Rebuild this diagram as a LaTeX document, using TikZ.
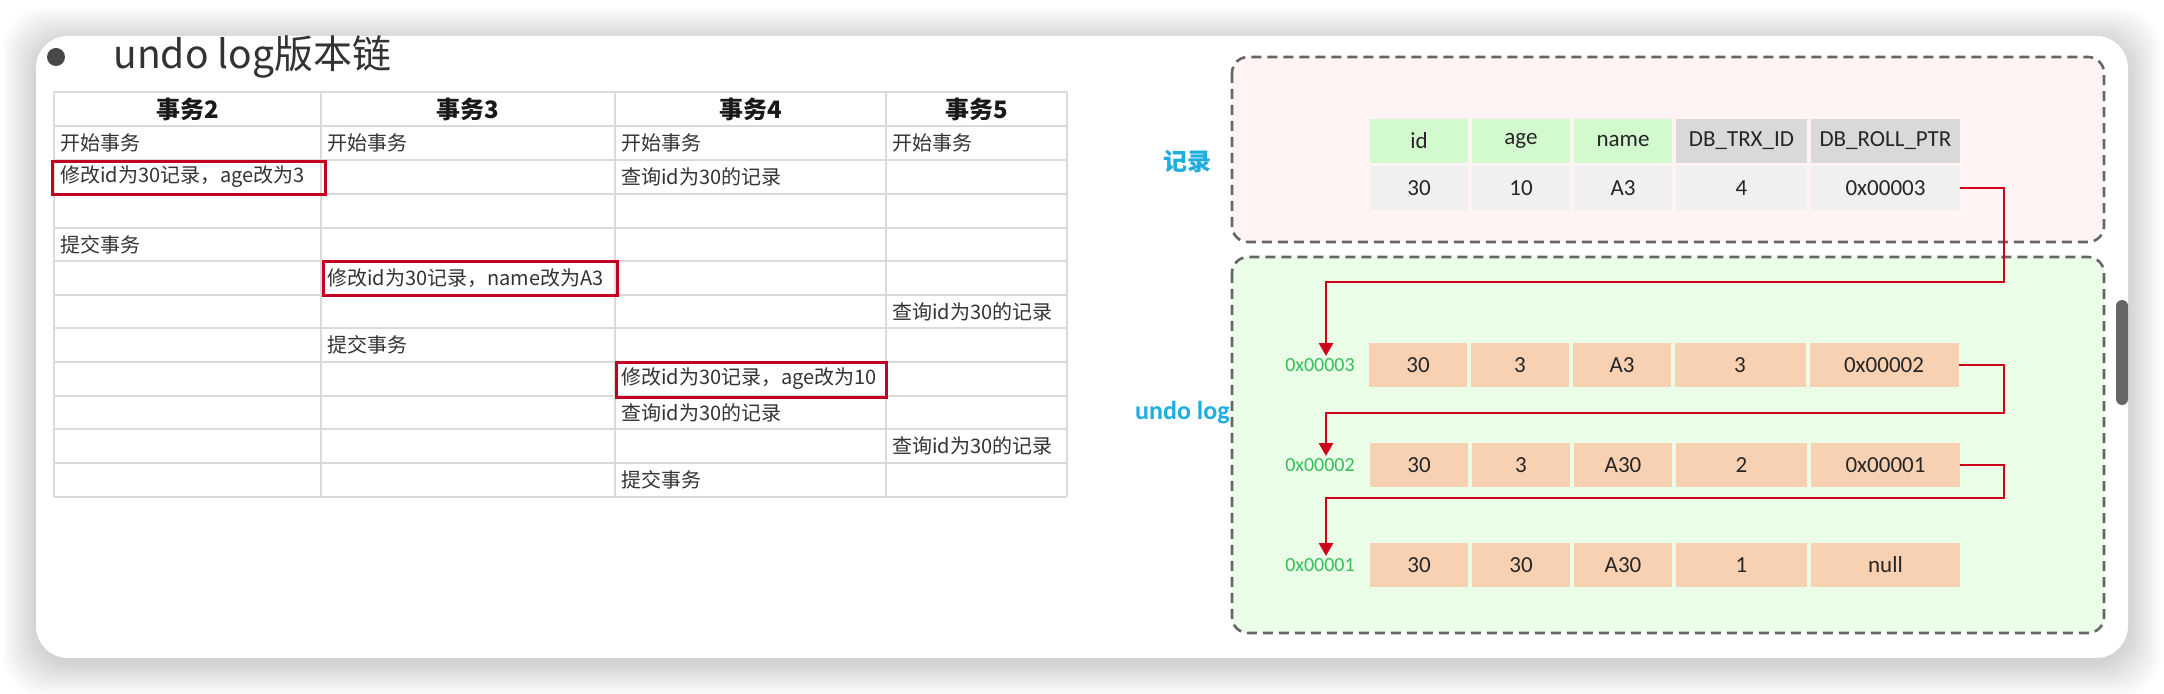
\documentclass[tikz,border=0pt]{standalone}
\usepackage{fontspec}
\setmainfont{Noto Sans CJK SC}
\newfontfamily\calfont{Carlito}
\usetikzlibrary{arrows.meta}

\definecolor{gridgray}{HTML}{DADADA}
\definecolor{boxred}{HTML}{C40022}
\definecolor{chainred}{HTML}{D0021B}
\definecolor{pinkbg}{HTML}{FFF3F3}
\definecolor{greenbg}{HTML}{EAFDE7}
\definecolor{dashgray}{HTML}{666666}
\definecolor{headgreen}{HTML}{D3F9CF}
\definecolor{headgray}{HTML}{D9D9D9}
\definecolor{datagray}{HTML}{F0F0F0}
\definecolor{peach}{HTML}{F8D1B3}
\definecolor{addrgreen}{HTML}{35BE5A}
\definecolor{labelblue}{HTML}{1EAEE0}

\begin{document}
\begin{tikzpicture}[x=0.5pt, y=-0.5pt,
  grid/.style={draw=gridgray, line width=1pt},
  head/.style={font=\bfseries\fontsize{12pt}{14pt}\selectfont, text=black!90},
  txt/.style={anchor=west, inner sep=0pt, font=\fontsize{10pt}{12pt}\selectfont, text=black!80},
  redbox/.style={draw=boxred, line width=1.5pt},
  dashbox/.style={draw=dashgray, line width=1.3pt, dash pattern=on 5pt off 3pt, rounded corners=8pt},
  cell/.style={inner sep=0pt, minimum height=22pt, font=\calfont\fontsize{11.5pt}{13pt}\selectfont, text=black!85},
  narrowcell/.style={cell, minimum width=49pt},
  trxcell/.style={cell, minimum width=65.5pt},
  ptrcell/.style={cell, minimum width=74.5pt},
  addr/.style={inner sep=1pt, font=\calfont\fontsize{10pt}{12pt}\selectfont, text=addrgreen},
  chain/.style={draw=chainred, line width=1.4pt, -{Triangle[width=7pt,length=6.5pt]}}]
\useasboundingbox (0,0) rectangle (2164,694);

% card
\foreach \i in {1,...,22}
  \fill[black, opacity=0.007, rounded corners=20pt] (36-\i*1.5,36-\i*1.5+5) rectangle (2128+\i*1.5,658+\i*1.5+5);
\fill[white, rounded corners=16pt] (36,36) rectangle (2128,658);
\fill[black!60, rounded corners=3pt] (2116,300) rectangle (2128,405);

\fill[black!72] (56,57) circle [radius=4.5pt];
\node[anchor=west, inner sep=0pt, font=\fontsize{19.5pt}{22pt}\selectfont, text=black!80] (title) at (113,57) {undo log版本链};

% transactions table
\foreach \y in {92,126,160,194,228,261,295,328,362,396,429,463,497}
  \draw[grid] (54,\y) -- (1067,\y);
\foreach \x in {54,321,615,886,1067}
  \draw[grid] (\x,92) -- (\x,497);

\node[head] (h2) at (187.5,109) {事务2};
\node[head] (h3) at (468,109) {事务3};
\node[head] (h4) at (750.5,109) {事务4};
\node[head] (h5) at (976.5,109) {事务5};

\node[txt] (begin2) at (60,143) {开始事务};
\node[txt] (begin3) at (327,143) {开始事务};
\node[txt] (begin4) at (621,143) {开始事务};
\node[txt] (begin5) at (892,143) {开始事务};
\node[txt] (upd2) at (60,177) {修改id为30记录，age改为3};
\node[txt] (sel4a) at (621,177) {查询id为30的记录};
\node[txt] (commit2) at (60,244.5) {提交事务};
\node[txt] (upd3) at (327,278) {修改id为30记录，name改为A3};
\node[txt] (sel5a) at (892,311.5) {查询id为30的记录};
\node[txt] (commit3) at (327,345) {提交事务};
\node[txt] (upd4) at (621,379) {修改id为30记录，age改为10};
\node[txt] (sel4b) at (621,412.5) {查询id为30的记录};
\node[txt] (sel5b) at (892,446) {查询id为30的记录};
\node[txt] (commit4) at (621,480) {提交事务};

\draw[redbox] (52,162) rectangle (325,195);
\draw[redbox] (323,262) rectangle (617,296);
\draw[redbox] (616,363) rectangle (886,398);

% record and undo log
\draw[dashbox, fill=pinkbg] (1232,57) rectangle (2104,242);
\draw[dashbox, fill=greenbg] (1232,257) rectangle (2104,633);

\node[font=\bfseries\fontsize{12pt}{14pt}\selectfont, text=labelblue] (reclabel) at (1187,162) {记录};
\node[anchor=east, inner sep=0pt, font=\calfont\bfseries\fontsize{13pt}{15pt}\selectfont, text=labelblue] (undolabel) at (1230,413) {undo log};

\node[narrowcell, fill=headgreen] (hid) at (1419,141) {id};
\node[narrowcell, fill=headgreen] (hage) at (1521,141) {age};
\node[narrowcell, fill=headgreen] (hname) at (1623,141) {name};
\node[trxcell, fill=headgray] (htrx) at (1741.5,141) {DB\_TRX\_ID};
\node[ptrcell, fill=headgray] (hptr) at (1885.5,141) {DB\_ROLL\_PTR};
\node[narrowcell, fill=datagray] (did) at (1419,188) {30};
\node[narrowcell, fill=datagray] (dage) at (1521,188) {10};
\node[narrowcell, fill=datagray] (dname) at (1623,188) {A3};
\node[trxcell, fill=datagray] (dtrx) at (1741.5,188) {4};
\node[ptrcell, fill=datagray] (dptr) at (1885.5,188) {0x00003};

\node[addr] (addr3) at (1320,365) {0x00003};
\node[narrowcell, fill=peach] (u1a) at (1418,365) {30};
\node[narrowcell, fill=peach] (u1b) at (1520,365) {3};
\node[narrowcell, fill=peach] (u1c) at (1622,365) {A3};
\node[trxcell, fill=peach] (u1d) at (1740,365) {3};
\node[ptrcell, fill=peach] (u1e) at (1884,365) {0x00002};

\node[addr] (addr2) at (1320,465) {0x00002};
\node[narrowcell, fill=peach] (u2a) at (1419,465) {30};
\node[narrowcell, fill=peach] (u2b) at (1521,465) {3};
\node[narrowcell, fill=peach] (u2c) at (1623,465) {A30};
\node[trxcell, fill=peach] (u2d) at (1741.5,465) {2};
\node[ptrcell, fill=peach] (u2e) at (1885.5,465) {0x00001};

\node[addr] (addr1) at (1320,565) {0x00001};
\node[narrowcell, fill=peach] (u3a) at (1419,565) {30};
\node[narrowcell, fill=peach] (u3b) at (1521,565) {30};
\node[narrowcell, fill=peach] (u3c) at (1623,565) {A30};
\node[trxcell, fill=peach] (u3d) at (1741.5,565) {1};
\node[ptrcell, fill=peach] (u3e) at (1885.5,565) {null};

\coordinate (bend1) at (2004,282);
\coordinate (bend2) at (2004,413);
\coordinate (bend3) at (2004,498);
\draw[chain] (dptr.east) -| (bend1) -| ([xshift=3pt]addr3.north);
\draw[chain] (u1e.east) -| (bend2) -| ([xshift=3pt]addr2.north);
\draw[chain] (u2e.east) -| (bend3) -| ([xshift=3pt]addr1.north);
\end{tikzpicture}
\end{document}
